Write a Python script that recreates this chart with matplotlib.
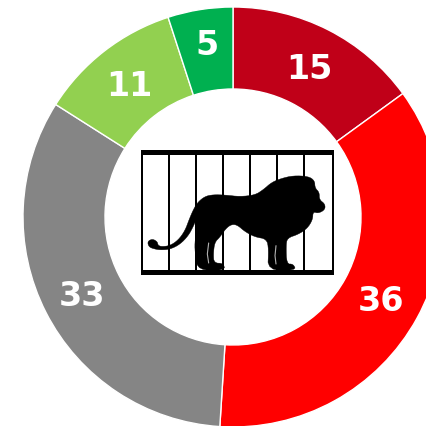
import numpy as np
import matplotlib
matplotlib.use("Agg")
import matplotlib.pyplot as plt
from matplotlib.patches import Polygon, Rectangle

values = [15, 36, 33, 11, 5]
colors = ["#C00018", "#FF0000", "#858585", "#92D050", "#00B050"]
label_lift = [0, 0, 0, 0, 7.5]

W, H = 426, 427
CX, CY = 233, 218
R_OUT, R_IN = 210, 128

# Lion silhouette, traced in zoomed-crop coordinates (crop origin 130,140, scale 3)
lion = [(56,305),(68,300),(82,308),(84,319),(95,323),(120,320),(145,303),(165,275),(178,240),(190,212),(203,190),
        (225,172),(250,167),(285,168),(330,173),(375,168),(400,152),(425,130),(455,118),(490,110),(535,112),
        (554,125),(555,147),(568,160),(568,182),(585,195),(585,212),(565,223),(549,218),(548,242),(532,268),
        (505,286),(472,297),(468,320),(470,375),(490,375),(498,394),(413,394),(416,330),(410,300),(375,294),
        (345,278),(322,258),(305,256),(288,268),(270,294),(254,310),(250,345),(252,372),(280,373),(285,394),
        (205,394),(196,350),(194,310),(201,275),(197,245),(190,262),(175,290),(150,316),(120,331),(90,333),
        (70,329),(58,324),(53,313)]
leg_gaps = [[(236,312),(232,345),(236,372)], [(438,320),(435,350),(438,375)]]
bar_zoom_x = [117, 198, 280, 361, 442, 523]


def px(x, y):
    return x, H - y


def z(x, y):
    return px(130 + x / 3, 140 + y / 3)


def smooth(pts, n=2):
    p = np.array(pts, float)
    for _ in range(n):
        q = np.roll(p, -1, axis=0)
        p = np.column_stack([0.75 * p + 0.25 * q, 0.25 * p + 0.75 * q]).reshape(-1, 2)
    return p


fig = plt.figure(figsize=(W / 100, H / 100), dpi=100)
ax = fig.add_axes([0, 0, 1, 1])
wedges, _ = ax.pie(values, colors=colors, startangle=90, counterclock=False,
                   center=px(CX, CY), radius=R_OUT,
                   wedgeprops=dict(width=R_OUT - R_IN, edgecolor="white", linewidth=1.0))
for w, v, lift in zip(wedges, values, label_lift):
    a = np.deg2rad((w.theta1 + w.theta2) / 2)
    r = (R_OUT + R_IN) / 2
    ax.text(CX + r * np.cos(a), H - CY + r * np.sin(a) - 2 + lift, str(v), color="white",
            ha="center", va="center", fontsize=24, fontweight="bold", family="DejaVu Sans")

# Cage
for x, y, w, h in [(141, 151, 192.5, 4.7), (141, 270.7, 192.5, 4.8), (141, 151, 2.3, 124), (331.5, 151, 2.2, 124)]:
    ax.add_patch(Rectangle(px(x, y + h), w, h, fc="black", ec="none", zorder=4))
for bx in bar_zoom_x:
    ax.add_patch(Rectangle(px(130 + bx / 3 - 1, 275), 2, 124, fc="black", ec="none", zorder=4))

# Lion
ax.add_patch(Polygon([z(*p) for p in smooth(lion)], closed=True, fc="black", ec="black", lw=0.3, zorder=5))
for gap in leg_gaps:
    xs, ys = zip(*[z(*p) for p in gap])
    ax.plot(xs, ys, color="white", lw=0.8, alpha=0.7, zorder=6, solid_capstyle="round")

ax.set_xlim(0, W)
ax.set_ylim(0, H)
ax.set_aspect("equal")
ax.axis("off")
fig.savefig("out.png", dpi=100, facecolor="white")
